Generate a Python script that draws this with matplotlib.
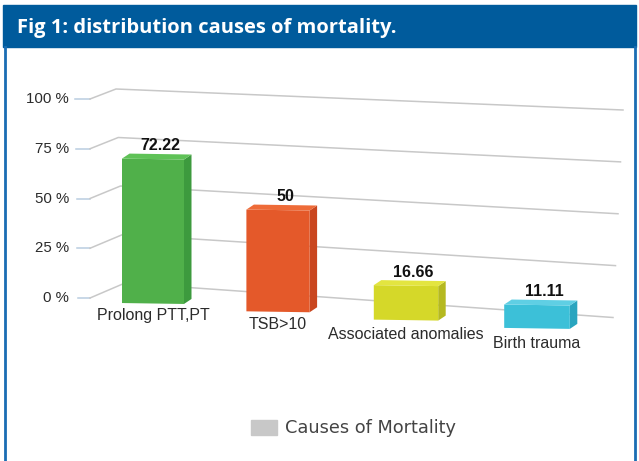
import numpy as np
import matplotlib
matplotlib.use('Agg')
import matplotlib.pyplot as plt
from matplotlib.patches import Polygon, Rectangle

# chart data
categories = ['Prolong PTT,PT', 'TSB>10', 'Associated anomalies', 'Birth trauma']
values = [72.22, 50, 16.66, 11.11]
value_labels = ['72.22', '50', '16.66', '11.11']
ticks = [0, 25, 50, 75, 100]
tick_labels = ['0 %', '25 %', '50 %', '75 %', '100 %']
legend_label = 'Causes of Mortality'
title = 'Fig 1: distribution causes of mortality.'

front_colors = ['#50b04a', '#e4592a', '#d5d829', '#3cc0d8']
top_colors = ['#5fc257', '#ee6b38', '#e3e540', '#5fcfe4']
side_colors = ['#3d9a3e', '#c9461f', '#b5b920', '#29a5bf']

W, H = 639, 461
BLUE = '#005b9c'


# --- fake perspective helpers (pixel space) ---
def bar_geom(c):
    cx = 153 + 123.5 * c + 1.5 * c ** 2
    w = 62 + 1.2 * c
    yb = 303.5 + 8.3 * c
    scale = 2.0 + 0.035 * c
    return cx, w, yb, scale


SKEW = 0.015
DEPTH = np.array([7.5, -5.0])


def wall_left(v):
    return 125 - 0.09 * v, 283 - 1.94 * v


def wall_right(v):
    return 613 + 0.1 * v, 317.5 - 2.075 * v


def stub(v):
    return 78 - 0.03 * v, 90, 298 - 1.99 * v


fig = plt.figure(figsize=(W / 100, H / 100), dpi=100)
ax = fig.add_axes([0, 0, 1, 1])
ax.set_xlim(0, W)
ax.set_ylim(H, 0)
ax.axis('off')

# frame and header
ax.add_patch(Rectangle((3, 5), W - 6, 42, color=BLUE, zorder=1))
ax.plot([4.5, 4.5], [47, H], color='#1a6db3', lw=2.0, zorder=1)
ax.plot([634.5, 634.5], [47, H], color='#1a6db3', lw=2.0, zorder=1)
ax.text(17, 28, title, color='white', fontsize=14.5, fontweight='bold',
        family='Open Sans', va='center', ha='left', zorder=2)

# gridlines on the back wall
for v, lab in zip(ticks, tick_labels):
    x0, x1, ys = stub(v)
    xl, yl = wall_left(v)
    xr, yr = wall_right(v)
    ax.plot([x0, x1], [ys, ys], color='#b9cde0', lw=1.1, zorder=2)
    ax.plot([x1, xl, xr], [ys, yl, yr], color='#c8c8c8', lw=1.1, zorder=2,
            solid_joinstyle='miter')
    ax.text(69, ys, lab, ha='right', va='center', fontsize=10.8,
            family='Liberation Sans', color='#2b2b2b', zorder=3)

# bars
for i, (val, vl, cat) in enumerate(zip(values, value_labels, categories)):
    cx, w, yb, scale = bar_geom(i)
    h = val * scale
    xl, xr = cx - w / 2, cx + w / 2
    ybl, ybr = yb - SKEW * w / 2, yb + SKEW * w / 2
    fl_b = np.array([xl, ybl])
    fr_b = np.array([xr, ybr])
    fl_t = np.array([xl, ybl - h])
    fr_t = np.array([xr, ybr - h])
    front = [fl_b, fr_b, fr_t, fl_t]
    top = [fl_t, fr_t, fr_t + DEPTH, fl_t + DEPTH]
    side = [fr_b, fr_b + DEPTH, fr_t + DEPTH, fr_t]
    ax.add_patch(Polygon(side, closed=True, fc=side_colors[i], ec='none', zorder=4))
    ax.add_patch(Polygon(front, closed=True, fc=front_colors[i], ec='none', zorder=5))
    ax.add_patch(Polygon(top, closed=True, fc=top_colors[i], ec='none', zorder=5))

    lx, ly = cx + DEPTH[0], (ybl - h) + DEPTH[1] - 8
    ax.text(lx, ly, vl, ha='center', va='center', fontsize=11.5,
            fontweight='bold', family='Liberation Sans', color='#111111', zorder=6)
    ax.text(cx, yb + 12 + 1.0 * i, cat, ha='center', va='center', fontsize=11.5,
            family='Liberation Sans', color='#2b2b2b', zorder=6)

# legend
ax.add_patch(Rectangle((251, 420), 26, 15, color='#c8c8c8', zorder=3))
ax.text(285, 428, legend_label, ha='left', va='center', fontsize=12.8,
        family='DejaVu Sans', color='#444444', zorder=3)

fig.savefig('out.png', dpi=100)
